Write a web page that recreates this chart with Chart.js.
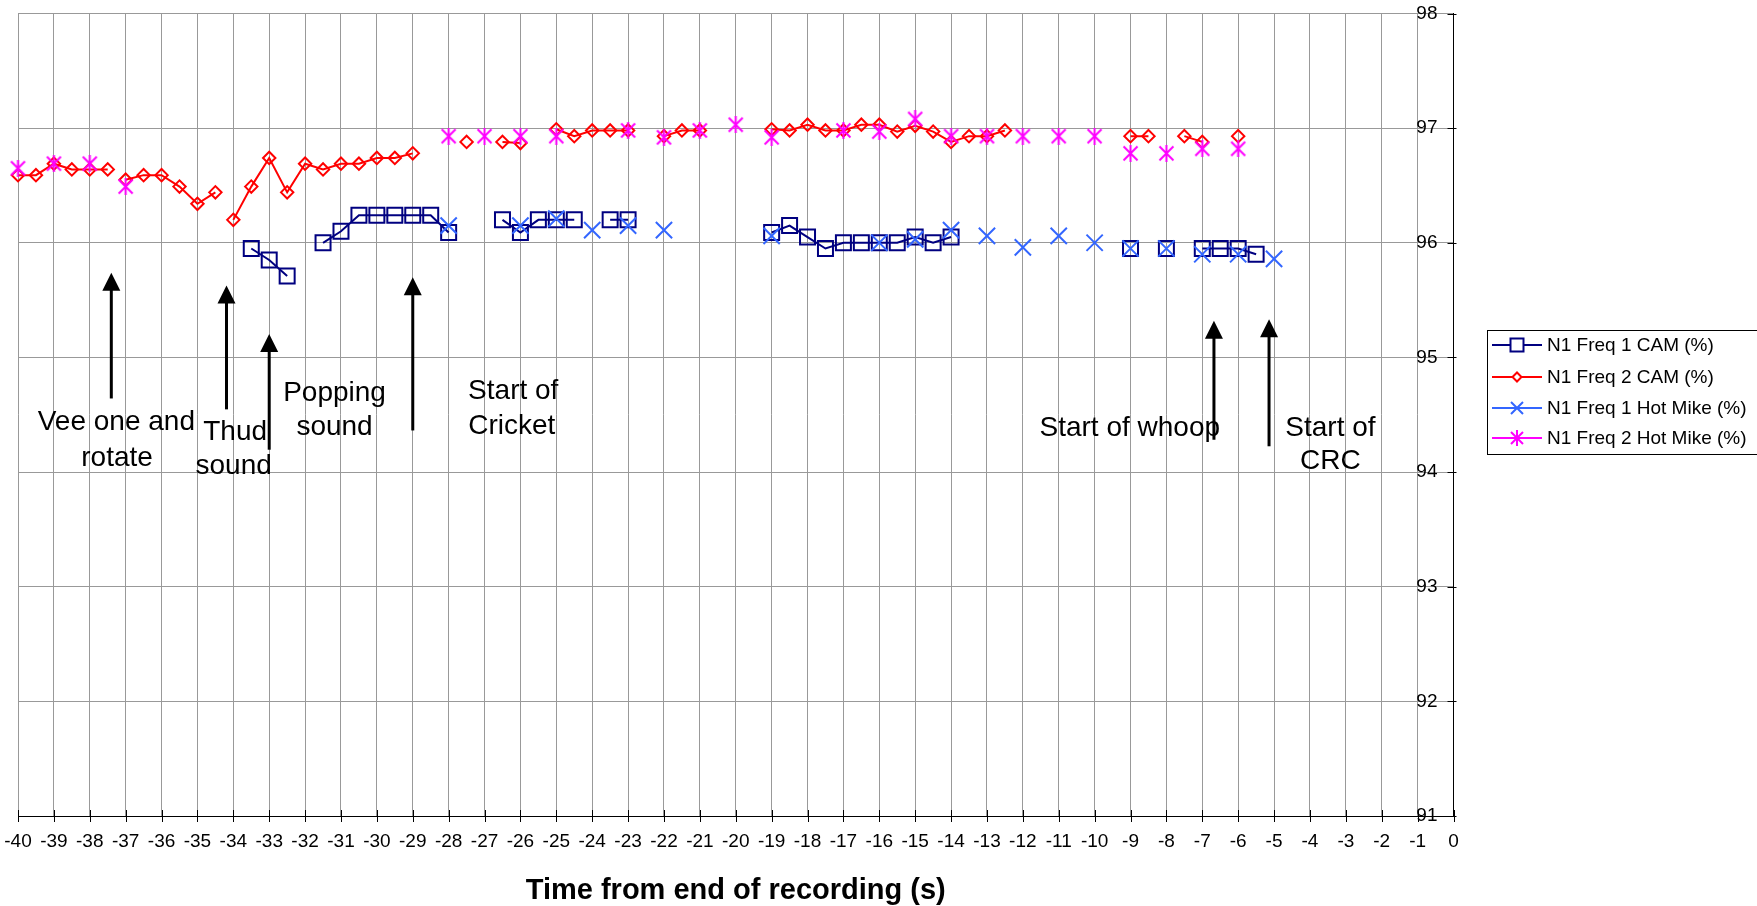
<!DOCTYPE html>
<html>
<head>
<meta charset="utf-8">
<script src="https://cdn.jsdelivr.net/npm/chart.js@4/dist/chart.umd.min.js"></script>
<style>
  html, body { margin: 0; padding: 0; background: #fff; }
  #wrap { position: relative; width: 1757px; height: 906px; }
</style>
</head>
<body>
<div id="wrap"><canvas id="c" width="1757" height="906"></canvas></div>
<script>
// ---------- DATA ----------
const xTitle = 'Time from end of recording (s)';
const seriesNames = ['N1 Freq 1 CAM (%)', 'N1 Freq 2 CAM (%)', 'N1 Freq 1 Hot Mike (%)', 'N1 Freq 2 Hot Mike (%)'];

const cam1Times = [-33.5,-33,-32.5,-31.5,-31,-30.5,-30,-29.5,-29,-28.5,-28,-26.5,-26,-25.5,-25,-24.5,-23.5,-23,-19,-18.5,-18,-17.5,-17,-16.5,-16,-15.5,-15,-14.5,-14,-9,-8,-7,-6.5,-6,-5.5];
const cam1Values = [95.95,95.85,95.71,96.00,96.10,96.24,96.24,96.24,96.24,96.24,96.09,96.20,96.09,96.20,96.20,96.20,96.20,96.20,96.09,96.15,96.05,95.95,96.00,96.00,96.00,96.00,96.05,96.00,96.05,95.95,95.95,95.95,95.95,95.95,95.90];
const cam1Breaks = [];

const cam2Times = [-40,-39.5,-39,-38.5,-38,-37.5,-37,-36.5,-36,-35.5,-35,-34.5,-34,-33.5,-33,-32.5,-32,-31.5,-31,-30.5,-30,-29.5,-29,-27.5,-26.5,-26,-25,-24.5,-24,-23.5,-23,-22,-21.5,-21,-19,-18.5,-18,-17.5,-17,-16.5,-16,-15.5,-15,-14.5,-14,-13.5,-13,-12.5,-9,-8.5,-7.5,-7,-6];
const cam2Values = [96.59,96.59,96.69,96.64,96.64,96.64,96.55,96.59,96.59,96.49,96.34,96.44,96.20,96.49,96.74,96.44,96.69,96.64,96.69,96.69,96.74,96.74,96.78,96.88,96.88,96.87,96.99,96.93,96.98,96.98,96.98,96.93,96.98,96.98,96.99,96.98,97.03,96.98,96.98,97.03,97.03,96.97,97.02,96.97,96.88,96.93,96.93,96.98,96.93,96.93,96.93,96.88,96.93];
const cam2Breaks = [-37.5, -34.5];

const hm1Times = [-28,-26,-25,-24,-23,-22,-19,-16,-15,-14,-13,-12,-11,-10,-9,-8,-7,-6,-5];
const hm1Values = [96.15,96.15,96.21,96.11,96.15,96.11,96.06,96.00,96.03,96.11,96.06,95.96,96.06,96.00,95.95,95.95,95.90,95.90,95.86];
const hm1Breaks = [];

const hm2Times = [-40,-39,-38,-37,-28,-27,-26,-25,-23,-22,-21,-20,-19,-17,-16,-15,-14,-13,-12,-11,-10,-9,-8,-7,-6];
const hm2Values = [96.65,96.69,96.69,96.49,96.93,96.93,96.93,96.93,96.98,96.92,96.98,97.03,96.92,96.98,96.97,97.08,96.93,96.93,96.93,96.93,96.93,96.78,96.78,96.82,96.82];
const hm2Breaks = [];

// Axis ranges / ticks
const xMin = -40, xMax = 0, xStep = 1;
const yMin = 91, yMax = 98, yStep = 1;

// Annotations (in data units: seconds, %)
const arrowX      = [-37.40, -34.19, -33.00, -29.00, -6.675, -5.14];
const arrowTop    = [95.738, 95.628, 95.205, 95.700, 95.320, 95.334];
const arrowBottom = [94.642, 94.547, 94.195, 94.363, 94.282, 94.225];

const noteText = ['Vee one and','rotate','Thud','sound','Popping','sound','Start of','Cricket','Start of whoop','Start of','CRC'];
const noteX    = [-37.26,-37.24,-33.95,-33.99,-31.18,-31.18,-26.20,-26.24,-9.02,-3.43,-3.43];
const noteY    = [94.363,94.052,94.282,93.979,94.619,94.325,94.634,94.331,94.311,94.311,94.023];

// ---------- STYLE ----------
const FONT = "'Liberation Sans', Arial, Helvetica, sans-serif";
const colors = ['#000080', '#FF0000', '#3366FF', '#FF00FF'];

function buildPoints(times, values, breaks) {
  const pts = [];
  for (let i = 0; i < times.length; i++) {
    pts.push({x: times[i], y: values[i]});
    if (i < times.length - 1) {
      const gap = times[i + 1] - times[i];
      if (gap > 0.5001 || breaks.includes(times[i])) {
        pts.push({x: (times[i] + times[i + 1]) / 2, y: null});
      }
    }
  }
  return pts;
}

function makeAsterisk(size, color, lw) {
  const c = document.createElement('canvas');
  c.width = size; c.height = size;
  const g = c.getContext('2d');
  g.strokeStyle = color; g.lineWidth = lw; g.lineCap = 'butt';
  const m = 1.5;
  g.beginPath();
  g.moveTo(m, m); g.lineTo(size - m, size - m);
  g.moveTo(size - m, m); g.lineTo(m, size - m);
  g.moveTo(size / 2, 0); g.lineTo(size / 2, size);
  g.stroke();
  return c;
}
const asterisk = makeAsterisk(17, colors[3], 2);

const datasets = [
  {label: seriesNames[0], data: buildPoints(cam1Times, cam1Values, cam1Breaks), borderColor: colors[0], borderWidth: 2,
   pointStyle: 'rect', pointRadius: 10.6, pointBorderWidth: 2, pointBorderColor: colors[0], pointBackgroundColor: 'rgba(0,0,0,0)', order: 4},
  {label: seriesNames[1], data: buildPoints(cam2Times, cam2Values, cam2Breaks), borderColor: colors[1], borderWidth: 2,
   pointStyle: 'rectRot', pointRadius: 6.2, pointBorderWidth: 2, pointBorderColor: colors[1], pointBackgroundColor: 'rgba(0,0,0,0)', order: 3},
  {label: seriesNames[2], data: buildPoints(hm1Times, hm1Values, hm1Breaks), borderColor: colors[2], borderWidth: 2,
   pointStyle: 'crossRot', pointRadius: 11.5, pointBorderWidth: 2, pointBorderColor: colors[2], pointBackgroundColor: colors[2], order: 2},
  {label: seriesNames[3], data: buildPoints(hm2Times, hm2Values, hm2Breaks), borderColor: colors[3], borderWidth: 2,
   pointStyle: asterisk, pointRadius: 8, pointBorderWidth: 2, pointBorderColor: colors[3], pointBackgroundColor: colors[3], order: 1}
];
datasets.forEach(d => { d.clip = false; d.spanGaps = false; d.tension = 0; d.pointHoverRadius = d.pointRadius; d.fill = false; });

// ---------- PLUGINS ----------
const crossTicks = {
  id: 'crossTicks',
  afterDraw(chart) {
    const ctx = chart.ctx, xs = chart.scales.x, ys = chart.scales.y;
    ctx.save();
    ctx.strokeStyle = '#000'; ctx.lineWidth = 1;
    ctx.beginPath();
    for (let v = xMin; v <= xMax; v += xStep) {
      const px = Math.round(xs.getPixelForValue(v)) + 0.5;
      ctx.moveTo(px, ys.bottom - 6); ctx.lineTo(px, ys.bottom + 6);
    }
    for (let v = yMin; v <= yMax; v += yStep) {
      const py = Math.round(ys.getPixelForValue(v)) + 0.5;
      ctx.moveTo(xs.right - 6, py); ctx.lineTo(xs.right + 3, py);
    }
    ctx.stroke();
    ctx.restore();
  }
};

const notes = {
  id: 'notes',
  afterDatasetsDraw(chart) {
    const ctx = chart.ctx, xs = chart.scales.x, ys = chart.scales.y;
    ctx.save();
    ctx.fillStyle = '#000'; ctx.strokeStyle = '#000';
    for (let i = 0; i < arrowX.length; i++) {
      const px = xs.getPixelForValue(arrowX[i]);
      const top = ys.getPixelForValue(arrowTop[i]);
      const bot = ys.getPixelForValue(arrowBottom[i]);
      ctx.lineWidth = 3;
      ctx.beginPath(); ctx.moveTo(px, top + 12); ctx.lineTo(px, bot); ctx.stroke();
      ctx.beginPath(); ctx.moveTo(px, top); ctx.lineTo(px - 9, top + 18); ctx.lineTo(px + 9, top + 18); ctx.closePath(); ctx.fill();
    }
    ctx.font = '28px ' + FONT;
    ctx.textAlign = 'center'; ctx.textBaseline = 'alphabetic';
    for (let i = 0; i < noteText.length; i++) {
      ctx.fillText(noteText[i], xs.getPixelForValue(noteX[i]), ys.getPixelForValue(noteY[i]));
    }
    ctx.restore();
  }
};

const boxLegend = {
  id: 'boxLegend',
  afterDraw(chart) {
    const ctx = chart.ctx;
    const left = 1487, top = 330, bottom = 454, right = 1770;
    ctx.save();
    ctx.strokeStyle = '#000'; ctx.lineWidth = 1;
    ctx.strokeRect(left + 0.5, top + 0.5, right - left, bottom - top);
    const rows = [345, 377, 408, 438];
    const lx0 = 1492, lx1 = 1542, mx = 1517;
    ctx.font = '19px ' + FONT; ctx.textAlign = 'left'; ctx.textBaseline = 'middle'; 
    for (let i = 0; i < 4; i++) {
      const y = rows[i];
      ctx.strokeStyle = colors[i]; ctx.lineWidth = 2;
      ctx.beginPath(); ctx.moveTo(lx0, y); ctx.lineTo(lx1, y); ctx.stroke();
      ctx.lineWidth = 2;
      if (i === 0) {
        ctx.fillStyle = '#fff'; ctx.fillRect(mx - 6.5, y - 6.5, 13, 13);
        ctx.strokeRect(mx - 6.5, y - 6.5, 13, 13);
      } else if (i === 1) {
        ctx.fillStyle = '#fff';
        ctx.beginPath(); ctx.moveTo(mx - 4.5, y); ctx.lineTo(mx, y - 4.5); ctx.lineTo(mx + 4.5, y); ctx.lineTo(mx, y + 4.5); ctx.closePath();
        ctx.fill(); ctx.stroke();
      } else if (i === 2) {
        ctx.beginPath(); ctx.moveTo(mx - 6, y - 6); ctx.lineTo(mx + 6, y + 6); ctx.moveTo(mx + 6, y - 6); ctx.lineTo(mx - 6, y + 6); ctx.stroke();
      } else {
        ctx.beginPath(); ctx.moveTo(mx - 6, y - 6); ctx.lineTo(mx + 6, y + 6); ctx.moveTo(mx + 6, y - 6); ctx.lineTo(mx - 6, y + 6);
        ctx.moveTo(mx, y - 8); ctx.lineTo(mx, y + 8); ctx.stroke();
      }
      ctx.fillStyle = '#000';
      ctx.fillText(seriesNames[i], 1547, y + 1);
    }
    ctx.restore();
  }
};

// ---------- CHART ----------
new Chart(document.getElementById('c'), {
  type: 'line',
  data: { datasets },
  options: {
    responsive: false,
    animation: false,
    events: [],
    layout: { padding: { left: 18, top: 7, right: 293.5, bottom: 0 } },
    plugins: { legend: { display: false }, tooltip: { enabled: false }, title: { display: false } },
    scales: {
      x: {
        type: 'linear', position: 'bottom', min: xMin, max: xMax,
        ticks: { stepSize: xStep, maxTicksLimit: 100, autoSkip: false, maxRotation: 0, color: '#000', padding: 14,
                 font: { size: 19, family: FONT } },
        grid: { color: '#999999', lineWidth: 1, drawTicks: false },
        border: { color: '#000', width: 1 },
        title: { display: true, text: xTitle, color: '#000', font: { size: 29, weight: 'bold', family: FONT }, padding: { top: 0, bottom: -2 } },
        afterFit(s) { s.height = 90; s.paddingLeft = 0; s.paddingRight = 0; }
      },
      y: {
        type: 'linear', position: 'right', min: yMin, max: yMax,
        ticks: { stepSize: yStep, mirror: true, padding: -16, color: '#000', font: { size: 19, family: FONT } },
        grid: { color: '#999999', lineWidth: 1, drawTicks: false },
        border: { color: '#000', width: 1 },
        afterFit(s) { s.width = 10; s.paddingTop = 0; s.paddingBottom = 0; }
      }
    }
  },
  plugins: [crossTicks, notes, boxLegend]
});
</script>
</body>
</html>
